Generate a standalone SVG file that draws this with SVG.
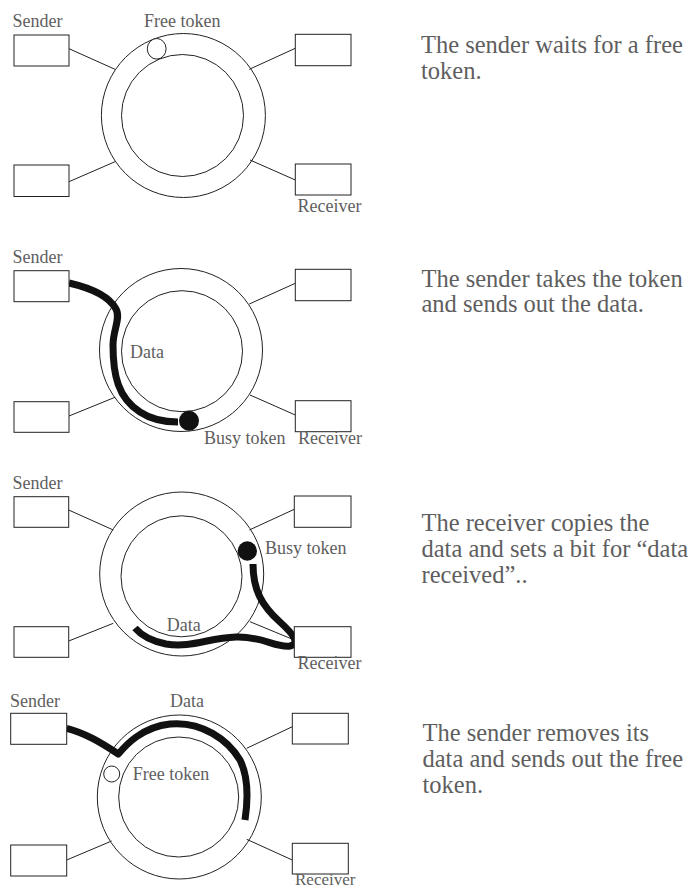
<svg xmlns="http://www.w3.org/2000/svg" width="696" height="889" viewBox="0 0 696 889">
  <style>
    .box { fill: #ffffff; stroke: #222222; stroke-width: 1; }
    .ring { fill: none; stroke: #222222; stroke-width: 1; }
    .link { fill: none; stroke: #222222; stroke-width: 1; }
    .data { fill: none; stroke: #111111; stroke-width: 7; stroke-linecap: butt; stroke-linejoin: round; }
    .free { fill: #ffffff; stroke: #222222; stroke-width: 1; }
    .busy { fill: #111111; stroke: none; }
    .lbl { font-family: "Liberation Serif", "Times New Roman", serif; font-size: 18px; fill: #5e5e5e; }
    .cap { font-family: "Liberation Serif", "Times New Roman", serif; font-size: 24.5px; fill: #5e5e5e; }
  </style>

  <!-- Step 1: sender waits for a free token -->
  <g id="step1">
    <g id="s1-ring">
      <circle class="ring" cx="183.4" cy="115.5" r="82"/>
      <circle class="ring" cx="182.5" cy="115.5" r="61"/>
    </g>
    <g id="s1-connectors">
      <line class="link" x1="69" y1="48.7" x2="115" y2="69.3"/>
      <line class="link" x1="295.3" y1="48.3" x2="249.3" y2="69.3"/>
      <line class="link" x1="69" y1="181.7" x2="115" y2="161.7"/>
      <line class="link" x1="250" y1="160" x2="295.3" y2="180"/>
    </g>
    <g id="s1-sender"><rect class="box" x="14" y="35" width="55" height="31"/><text class="lbl" x="12.5" y="27.3">Sender</text></g>
    <g id="s1-station-tr"><rect class="box" x="295.3" y="34.3" width="55.7" height="31.4"/></g>
    <g id="s1-station-bl"><rect class="box" x="14" y="165" width="55" height="31.5"/></g>
    <g id="s1-receiver"><rect class="box" x="295.3" y="164" width="55.7" height="31"/><text class="lbl" x="297.5" y="212.3">Receiver</text></g>
    <g id="s1-token"><ellipse class="free" cx="156.7" cy="48.8" rx="9.4" ry="10.3"/><text class="lbl" x="144" y="27.3">Free token</text></g>
    <text class="cap" x="421" y="53.3">The sender waits for a free</text>
    <text class="cap" x="421" y="79.3">token.</text>
  </g>

  <!-- Step 2: sender takes the token and sends data -->
  <g id="step2">
    <g id="s2-ring">
      <circle class="ring" cx="181" cy="350" r="81.5"/>
      <circle class="ring" cx="182" cy="351.2" r="60.5"/>
    </g>
    <g id="s2-connectors">
      <line class="link" x1="295.3" y1="283.3" x2="249.3" y2="304"/>
      <line class="link" x1="69" y1="416" x2="115" y2="397.3"/>
      <line class="link" x1="250" y1="395" x2="295.3" y2="415"/>
      <path class="data" d="M69,283 C95,289 110,298 116,309 C121,318 113,330 113,345 C113,375 118,398 140,412 C152,420 165,422 178,422"/>
    </g>
    <g id="s2-sender"><rect class="box" x="14" y="270.7" width="55" height="31"/><text class="lbl" x="12.5" y="263.3">Sender</text></g>
    <g id="s2-station-tr"><rect class="box" x="295.3" y="269.3" width="55.7" height="31.4"/></g>
    <g id="s2-station-bl"><rect class="box" x="14" y="401.7" width="55" height="30.6"/></g>
    <g id="s2-receiver"><rect class="box" x="295.3" y="400.7" width="55.7" height="31"/><text class="lbl" x="298" y="444">Receiver</text></g>
    <g id="s2-token"><circle class="busy" cx="189" cy="420.7" r="10"/><text class="lbl" x="204" y="444">Busy token</text></g>
    <text class="lbl" x="130" y="358.3">Data</text>
    <text class="cap" x="421.5" y="287.3">The sender takes the token</text>
    <text class="cap" x="421.5" y="312.3">and sends out the data.</text>
  </g>

  <!-- Step 3: receiver copies the data -->
  <g id="step3">
    <g id="s3-ring">
      <circle class="ring" cx="181.7" cy="574" r="82"/>
      <circle class="ring" cx="181.5" cy="576.3" r="60.5"/>
    </g>
    <g id="s3-connectors">
      <line class="link" x1="68.7" y1="510" x2="113.3" y2="530"/>
      <line class="link" x1="294.3" y1="509.3" x2="249.3" y2="530"/>
      <line class="link" x1="68.7" y1="641" x2="113.3" y2="623.3"/>
      <line class="link" x1="250" y1="621.7" x2="294.3" y2="640"/>
      <path class="data" d="M253,564 C253,590 262,606 280,622 C292,633 301,643 290,646 C276,648 262,636 236,637 C208,638 192,648 166,644 C151,641 141,635 135,628"/>
    </g>
    <g id="s3-sender"><rect class="box" x="14" y="496.7" width="54.7" height="30.6"/><text class="lbl" x="12.5" y="489.3">Sender</text></g>
    <g id="s3-station-tr"><rect class="box" x="294.3" y="496" width="56.7" height="31.3"/></g>
    <g id="s3-station-bl"><rect class="box" x="14" y="626.7" width="54.7" height="30.6"/></g>
    <g id="s3-receiver"><rect class="box" x="294.3" y="626.7" width="56.7" height="30.6"/><text class="lbl" x="297.5" y="669">Receiver</text></g>
    <g id="s3-token"><circle class="busy" cx="247.3" cy="551" r="9.7"/><text class="lbl" x="265" y="554.3">Busy token</text></g>
    <text class="lbl" x="166.7" y="630.7">Data</text>
    <text class="cap" x="421.5" y="530.7">The receiver copies the</text>
    <text class="cap" x="421.5" y="556.7">data and sets a bit for “data</text>
    <text class="cap" x="421.5" y="582.7">received”..</text>
  </g>

  <!-- Step 4: sender removes its data and releases a free token -->
  <g id="step4">
    <g id="s4-ring">
      <circle class="ring" cx="179.3" cy="797" r="82"/>
      <circle class="ring" cx="178.7" cy="797" r="60"/>
    </g>
    <g id="s4-connectors">
      <line class="link" x1="292.3" y1="726.7" x2="246.7" y2="748.3"/>
      <line class="link" x1="66.7" y1="860" x2="111.7" y2="841"/>
      <line class="link" x1="246.7" y1="839.3" x2="292.3" y2="860"/>
      <path class="data" d="M66.7,728.3 C85,733 100,742 118.3,754 C126,745 142,727 170,724 C202,721 228,740 240,760 C249,778 248,800 245,820"/>
    </g>
    <g id="s4-sender"><rect class="box" x="10.7" y="713.3" width="56" height="31"/><text class="lbl" x="10" y="706.7">Sender</text></g>
    <g id="s4-station-tr"><rect class="box" x="292.3" y="713.3" width="56" height="30.7"/></g>
    <g id="s4-station-bl"><rect class="box" x="10.7" y="845" width="56" height="31"/></g>
    <g id="s4-receiver"><rect class="box" x="292.3" y="843.3" width="56" height="30.7"/><text class="lbl" x="295" y="884.5" style="font-size:17px">Receiver</text></g>
    <g id="s4-token"><circle class="free" cx="111.7" cy="774" r="8"/><text class="lbl" x="132.7" y="780">Free token</text></g>
    <text class="lbl" x="170" y="707.3">Data</text>
    <text class="cap" x="422.5" y="741">The sender removes its</text>
    <text class="cap" x="422.5" y="766.7">data and sends out the free</text>
    <text class="cap" x="422.5" y="792.7">token.</text>
  </g>
</svg>
